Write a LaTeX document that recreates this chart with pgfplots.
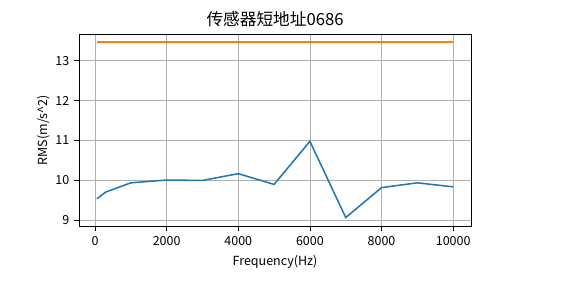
\documentclass[border=0pt]{standalone}
\usepackage{fontspec}
\setmainfont{Noto Sans CJK SC}
\usepackage{pgfplots}
\pgfplotsset{compat=1.18}
\definecolor{mplblue}{HTML}{1F77B4}
\definecolor{mplorange}{HTML}{FF7F0E}
\definecolor{gridgray}{HTML}{B0B0B0}
\begin{document}
\begin{tikzpicture}
\path[use as bounding box] (0,0) rectangle (406.8bp,203.76bp);
\begin{axis}[
  at={(56.9bp,40.8bp)}, anchor=south west,
  scale only axis, width=282.2bp, height=138.5bp,
  xmin=-447.5, xmax=10497.5, ymin=8.85, ymax=13.67,
  xtick={0,2000,4000,6000,8000,10000},
  ytick={9,10,11,12,13},
  scaled x ticks=false,
  /pgf/number format/assume math mode=true,
  /pgf/number format/1000 sep={},
  xticklabel style={font=\fontsize{9bp}{10bp}\selectfont},
  yticklabel style={font=\fontsize{9bp}{10bp}\selectfont},
  tick align=outside, tick pos=left,
  major tick length=3.5bp,
  every tick/.style={black, line width=0.6bp},
  axis line style={line width=0.6bp},
  grid=major,
  major grid style={gridgray, line width=0.6bp},
  title={传感器短地址0686},
  title style={font=\fontsize{12bp}{14bp}\selectfont, yshift=-4.5bp},
  xlabel={Frequency(Hz)},
  ylabel={RMS(m/s\textasciicircum 2)},
  xlabel style={font=\fontsize{9bp}{10bp}\selectfont, yshift=0bp},
  ylabel style={font=\fontsize{9bp}{10bp}\selectfont, yshift=-3bp},
]
\addplot[mplblue, line width=1.1bp] coordinates {
  (50,9.54) (300,9.71) (1000,9.94) (2000,10.01) (3000,10.00) (4000,10.17)
  (5000,9.90) (6000,10.98) (7000,9.07) (8000,9.82) (9000,9.94) (10000,9.84)
};
\addplot[mplorange, line width=1.1bp] coordinates {
  (50,13.47) (10000,13.47)
};
\end{axis}
\end{tikzpicture}
\end{document}
